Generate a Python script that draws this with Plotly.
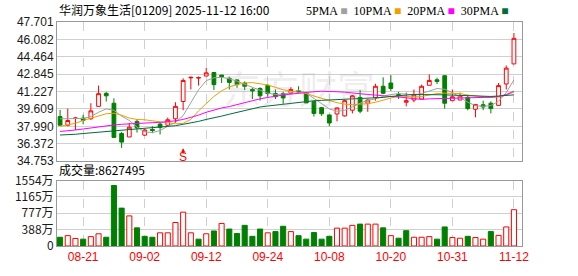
import plotly.graph_objects as go

# ---------------- data ----------------
dates = ["08-18", "08-19", "08-20", "08-21", "08-22", "08-25", "08-26", "08-27", "08-28", "08-29",
         "09-01", "09-02", "09-03", "09-04", "09-05", "09-08", "09-09", "09-10", "09-11", "09-12",
         "09-15", "09-16", "09-17", "09-18", "09-19", "09-22", "09-23", "09-24", "09-25", "09-26",
         "09-29", "09-30", "10-02", "10-03", "10-06", "10-08", "10-09", "10-10", "10-13", "10-14",
         "10-15", "10-16", "10-17", "10-20", "10-21", "10-22", "10-23", "10-24", "10-27", "10-28",
         "10-30", "10-31", "11-03", "11-04", "11-05", "11-06", "11-07", "11-10", "11-11", "11-12"]

opens = [38.90, 38.09, 38.72, 38.75, 38.69, 39.85, 41.06, 40.14, 37.32, 37.00,
         38.45, 37.17, 37.70, 38.20, 38.09, 38.69, 40.30, 42.50, 42.48, 42.67,
         43.00, 42.76, 42.46, 42.31, 42.02, 41.42, 41.51, 41.81, 41.04, 41.04,
         41.07, 41.30, 41.07, 40.30, 39.73, 39.05, 39.14, 38.96, 39.49, 40.68,
         40.14, 40.68, 41.72, 42.02, 40.95, 40.23, 40.44, 40.53, 41.81, 42.32,
         42.70, 40.38, 40.44, 40.68, 39.58, 40.00, 40.14, 39.94, 41.93, 43.80]
highs = [39.52, 39.64, 38.85, 39.07, 40.14, 41.78, 41.20, 40.60, 37.47, 38.30,
         38.65, 37.77, 38.00, 38.30, 38.81, 40.23, 42.46, 42.62, 42.62, 43.44,
         43.00, 42.76, 42.61, 42.37, 42.17, 41.57, 41.63, 41.87, 41.42, 41.20,
         41.63, 41.72, 41.20, 40.38, 39.79, 39.10, 39.75, 40.50, 40.90, 41.37,
         40.50, 41.95, 42.55, 42.76, 41.20, 41.13, 41.42, 41.87, 42.82, 42.52,
         42.76, 41.42, 41.13, 40.92, 40.03, 40.38, 40.32, 42.02, 43.65, 46.68]
lows = [38.09, 38.00, 37.65, 38.18, 38.60, 39.85, 40.30, 36.96, 35.98, 37.00,
        37.41, 37.10, 37.35, 37.23, 38.00, 38.30, 39.49, 41.42, 41.78, 42.67,
        41.37, 42.02, 41.42, 41.57, 41.37, 40.53, 40.38, 40.74, 40.53, 40.08,
        40.98, 41.04, 40.17, 38.90, 38.96, 38.00, 38.45, 38.90, 39.19, 39.20,
        39.34, 40.38, 40.98, 41.28, 40.53, 39.85, 40.23, 40.53, 41.81, 41.93,
        39.64, 40.38, 40.44, 39.49, 38.83, 39.49, 39.19, 39.94, 41.42, 43.80]
closes = [38.09, 38.53, 38.76, 38.54, 39.43, 41.03, 40.83, 36.96, 36.52, 37.91,
          37.85, 37.65, 37.60, 37.90, 38.60, 39.85, 42.26, 42.55, 42.53, 42.97,
          41.87, 42.61, 42.08, 41.87, 41.72, 41.28, 40.83, 41.04, 40.74, 40.63,
          41.42, 41.20, 40.17, 39.19, 39.16, 38.30, 39.70, 40.38, 40.83, 39.40,
          40.44, 41.72, 41.07, 41.51, 40.85, 40.38, 40.92, 41.72, 42.26, 42.17,
          40.14, 40.74, 40.80, 39.64, 40.03, 39.79, 39.64, 41.78, 43.41, 46.18]

ma5 = [38.69, 38.69, 38.67, 38.72, 38.90, 39.30, 39.61, 39.48, 38.94, 38.54,
       37.92, 37.47, 37.41, 37.60, 38.00, 38.36, 38.99, 40.14, 41.39, 42.24,
       42.51, 42.55, 42.42, 42.19, 41.88, 41.62, 41.35, 41.08, 40.95, 40.99,
       41.13, 41.35, 41.08, 40.59, 40.06, 39.61, 39.39, 39.48, 39.79, 40.14,
       40.41, 40.55, 40.77, 40.95, 41.04, 40.99, 40.92, 41.04, 41.26, 41.51,
       41.44, 41.13, 40.68, 40.23, 39.92, 39.85, 39.92, 40.32, 41.13, 42.31]
ma10 = [38.00, 38.14, 38.27, 38.54, 38.76, 38.94, 39.16, 39.21, 39.03, 38.76,
        38.63, 38.60, 38.54, 38.41, 38.32, 38.23, 38.27, 38.63, 39.43, 40.14,
        40.77, 41.30, 41.66, 41.88, 42.02, 42.06, 41.97, 41.84, 41.62, 41.39,
        41.26, 41.17, 41.04, 40.81, 40.59, 40.37, 40.19, 40.06, 40.01, 40.06,
        40.10, 40.23, 40.41, 40.63, 40.81, 40.77, 40.72, 40.77, 40.90, 41.04,
        41.08, 41.08, 41.04, 40.90, 40.81, 40.72, 40.68, 40.72, 40.90, 41.17]
ma20 = [37.51, 37.56, 37.65, 37.74, 37.85, 37.96, 38.05, 38.12, 38.18, 38.23,
        38.27, 38.30, 38.33, 38.36, 38.41, 38.50, 38.63, 38.81, 39.03, 39.30,
        39.52, 39.70, 39.83, 40.01, 40.23, 40.41, 40.55, 40.68, 40.81, 40.90,
        40.99, 41.08, 41.17, 41.21, 41.26, 41.26, 41.21, 41.17, 41.08, 41.04,
        40.95, 40.90, 40.81, 40.77, 40.72, 40.63, 40.55, 40.50, 40.55, 40.56,
        40.59, 40.59, 40.62, 40.63, 40.65, 40.68, 40.70, 40.77, 40.95, 41.26]
ma30 = [37.18, 37.20, 37.25, 37.32, 37.38, 37.47, 37.56, 37.62, 37.69, 37.74,
        37.80, 37.83, 37.87, 37.92, 37.96, 38.05, 38.18, 38.30, 38.45, 38.63,
        38.76, 38.94, 39.12, 39.30, 39.48, 39.65, 39.79, 39.88, 39.97, 40.06,
        40.10, 40.19, 40.28, 40.37, 40.41, 40.44, 40.46, 40.48, 40.53, 40.56,
        40.59, 40.62, 40.68, 40.77, 40.86, 40.90, 40.95, 40.96, 40.95, 40.93,
        40.92, 40.90, 40.88, 40.84, 40.80, 40.77, 40.77, 40.81, 40.86, 40.92]

# volume in 万 shares
volume = [208, 246, 179, 163, 223, 290, 208, 1436, 900, 715,
          431, 230, 208, 313, 313, 558, 804, 313, 163, 290,
          357, 536, 402, 297, 491, 230, 402, 313, 342, 469,
          342, 246, 163, 319, 163, 230, 424, 424, 491, 520,
          520, 520, 431, 246, 185, 364, 208, 208, 223, 163,
          453, 201, 185, 230, 201, 163, 342, 252, 453, 862.7]
# bar colour direction as seen in the picture (1 = red hollow, 0 = green filled)
vol_up = [0, 1, 1, 0, 1, 1, 0, 0, 0, 1,
          0, 0, 0, 1, 1, 1, 1, 1, 0, 1,
          0, 1, 0, 0, 0, 0, 0, 1, 0, 0,
          1, 0, 0, 0, 0, 0, 1, 1, 1, 0,
          1, 1, 0, 1, 0, 0, 1, 1, 1, 0,
          0, 1, 1, 0, 1, 1, 0, 1, 1, 1]

price_ticks = [34.753, 36.372, 37.990, 39.609, 41.227, 42.845, 44.464, 46.082, 47.701]
vol_ticks = [0, 388, 777, 1165, 1554]
vol_tick_text = ["0", "388万", "777万", "1165万", "1554万"]
date_ticks = ["08-21", "09-02", "09-12", "09-24", "10-08", "10-20", "10-31", "11-12"]

title_text = "华润万象生活[01209] 2025-11-12 16:00"
vol_title = "成交量:8627495"
signal_date = "09-09"

# ---------------- styling ----------------
RED = "#FF0000"
GREEN = "#008000"
MA_COLORS = ["#A0A0A0", "#F0A000", "#FF00FF", "#006C3A"]
GRID = "#D0D0D0"
FRAME = "#999999"

fig = go.Figure()

fig.add_trace(go.Candlestick(
    x=dates, open=opens, high=highs, low=lows, close=closes,
    increasing=dict(line=dict(color=RED, width=1), fillcolor="#FFFFFF"),
    decreasing=dict(line=dict(color=GREEN, width=1), fillcolor=GREEN),
    whiskerwidth=0, xaxis="x", yaxis="y", showlegend=False, hoverinfo="skip"))

for ma, col in zip([ma5, ma10, ma20, ma30], MA_COLORS):
    fig.add_trace(go.Scatter(x=dates, y=ma, mode="lines", line=dict(color=col, width=1),
                             xaxis="x", yaxis="y", showlegend=False, hoverinfo="skip"))

fig.add_trace(go.Bar(
    x=dates, y=volume, width=0.66,
    marker=dict(color=["#FFFFFF" if u else GREEN for u in vol_up],
                line=dict(color=[RED if u else GREEN for u in vol_up], width=1)),
    xaxis="x2", yaxis="y2", showlegend=False, hoverinfo="skip"))

xr = [-0.4, 60.05]
common_x = dict(type="category", range=xr, tickmode="array", tickvals=date_ticks,
                showgrid=True, gridcolor=GRID, griddash="dash", gridwidth=1,
                showline=True, mirror=True, linecolor=FRAME, linewidth=1,
                ticks="", zeroline=False, fixedrange=True)

fig.update_layout(
    width=578, height=276,
    margin=dict(l=57, r=56, t=21, b=21),
    paper_bgcolor="#FFFFFF", plot_bgcolor="#FFFFFF",
    showlegend=False, bargap=0.3,
    font=dict(family="Liberation Sans, Arial, sans-serif", size=12, color="#000000"),
    xaxis=dict(domain=[0, 1], anchor="y", showticklabels=False,
               rangeslider=dict(visible=False), **common_x),
    yaxis=dict(domain=[0.379, 1.0], range=[price_ticks[0], price_ticks[-1]],
               tickmode="array", tickvals=price_ticks,
               ticktext=[f"{v:.3f}" for v in price_ticks],
               showgrid=True, gridcolor=GRID, showline=True, mirror=True,
               linecolor=FRAME, ticks="", zeroline=False,
               tickfont=dict(family="Liberation Sans, Arial", size=12, color="#1a1a1a")),
    xaxis2=dict(domain=[0, 1], anchor="y2", showticklabels=True, ticktext=date_ticks,
                tickfont=dict(family="Liberation Sans, Arial", size=12, color=RED),
                **common_x),
    yaxis2=dict(domain=[0, 0.292], range=[vol_ticks[0], vol_ticks[-1]],
                tickmode="array", tickvals=vol_ticks, ticktext=vol_tick_text,
                showgrid=True, gridcolor=GRID, showline=True, mirror=True,
                linecolor=FRAME, ticks="", zeroline=False,
                tickfont=dict(family="Noto Sans CJK SC", size=12, color="#1a1a1a")),
)

legend_html = ("5PMA <span style='color:%s'>■</span>  10PMA <span style='color:%s'>■</span>  "
               "20PMA <span style='color:%s'>■</span>  30PMA <span style='color:%s'>■</span>") % tuple(MA_COLORS)

fig.update_layout(annotations=[
    dict(text=title_text, xref="paper", yref="paper", x=0.0, y=1.0, xanchor="left",
         yanchor="bottom", yshift=2, showarrow=False,
         font=dict(family="Noto Sans CJK SC", size=12, color="#000000")),
    dict(text=legend_html, xref="paper", yref="paper", x=0.975, y=1.0, xanchor="right",
         yanchor="bottom", yshift=2, showarrow=False,
         font=dict(family="Liberation Serif, serif", size=12, color="#000000")),
    dict(text=vol_title, xref="paper", yref="paper", x=0.0, y=0.292, xanchor="left",
         yanchor="bottom", yshift=1, showarrow=False,
         font=dict(family="Noto Sans CJK SC", size=12, color="#000000")),
    dict(text="东方财富", xref="x", yref="y", x=31, y=41.7, showarrow=False,
         font=dict(family="Noto Sans CJK SC", size=38, color="rgba(150,150,150,0.18)")),
    dict(text="S", xref="x", yref="y", x=signal_date, y=35.15, showarrow=False,
         font=dict(family="Liberation Sans", size=12, color=RED)),
    dict(text="", xref="x", yref="y", x=signal_date, y=35.95, ax=0, ay=7,
         showarrow=True, arrowhead=2, arrowsize=0.8, arrowwidth=1, arrowcolor=RED),
])

fig.write_html("out.html")
